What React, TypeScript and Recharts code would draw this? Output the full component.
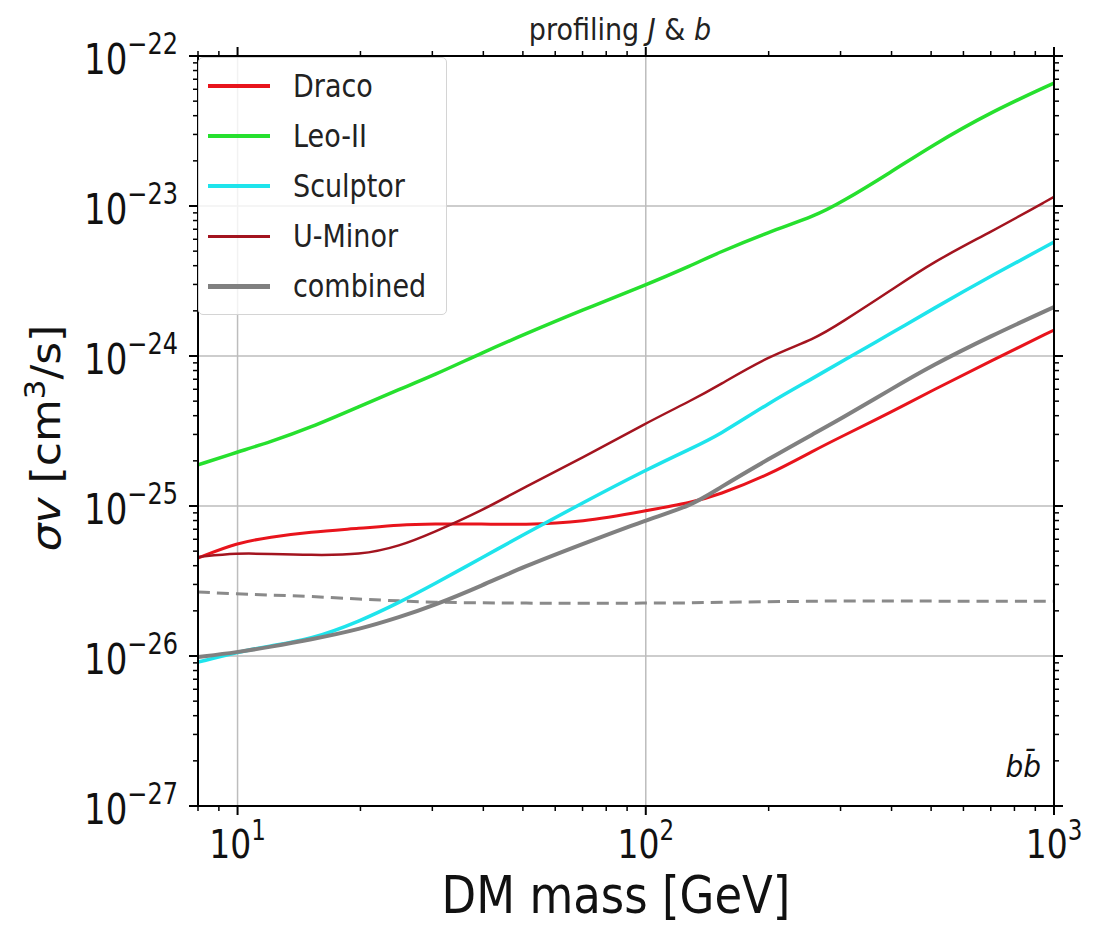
import React from 'react';
import { LineChart, Line, XAxis, YAxis, ReferenceLine } from 'recharts';

// DM mass [GeV]
const MASS = [8, 10, 12, 15, 20, 25, 30, 40, 50, 70, 100, 130, 150, 200, 260, 300, 400, 500, 700, 1000];

// sigma v upper limits [cm^3/s]
const DRACO = [4.5e-26, 5.7e-26, 6.2e-26, 6.7e-26, 7.1e-26, 7.5e-26, 7.6e-26, 7.6e-26, 7.5e-26, 7.8e-26, 9.3e-26, 1.06e-25, 1.18e-25, 1.61e-25, 2.37e-25, 2.88e-25, 4.24e-25, 5.84e-25, 9.26e-25, 1.49e-24];
const LEO_II = [1.88e-25, 2.29e-25, 2.67e-25, 3.31e-25, 4.64e-25, 6.03e-25, 7.36e-25, 1.06e-24, 1.38e-24, 2.03e-24, 2.97e-24, 4.04e-24, 4.86e-24, 6.71e-24, 8.58e-24, 1.05e-23, 1.69e-23, 2.51e-23, 4.23e-23, 6.61e-23];
const SCULPTOR = [9.1e-27, 1.06e-26, 1.17e-26, 1.28e-26, 1.71e-26, 2.29e-26, 2.97e-26, 4.57e-26, 6.41e-26, 1.05e-25, 1.74e-25, 2.44e-25, 2.93e-25, 4.86e-25, 7.24e-25, 9.12e-25, 1.42e-24, 2.03e-24, 3.41e-24, 5.75e-24];
const U_MINOR = [4.57e-26, 4.86e-26, 4.79e-26, 4.71e-26, 4.71e-26, 5.41e-26, 6.61e-26, 9.4e-26, 1.32e-25, 2.09e-25, 3.57e-25, 5.09e-25, 6.31e-25, 1.0e-24, 1.3e-24, 1.66e-24, 2.75e-24, 4.17e-24, 6.71e-24, 1.15e-23];
const COMBINED = [9.85e-27, 1.06e-26, 1.15e-26, 1.28e-26, 1.51e-26, 1.82e-26, 2.15e-26, 2.97e-26, 3.92e-26, 5.58e-26, 8.07e-26, 1.01e-25, 1.3e-25, 2.06e-25, 3.07e-25, 3.8e-25, 6.03e-25, 8.58e-25, 1.36e-24, 2.12e-24];
const RELIC = [2.67e-26, 2.59e-26, 2.55e-26, 2.5e-26, 2.39e-26, 2.33e-26, 2.28e-26, 2.26e-26, 2.25e-26, 2.25e-26, 2.25e-26, 2.26e-26, 2.28e-26, 2.3e-26, 2.32e-26, 2.33e-26, 2.33e-26, 2.32e-26, 2.32e-26, 2.32e-26];

// axes
const X_DOMAIN = [8, 1000];
const Y_DOMAIN = [1e-27, 1e-22];
const X_GRID = [10, 100];
const Y_GRID = [1e-23, 1e-24, 1e-25, 1e-26];
const X_TICKS = [8, 9, 10, 20, 30, 40, 50, 60, 70, 80, 90, 100, 200, 300, 400, 500, 600, 700, 800, 900, 1000];
const Y_TICKS = [-27, -26, -25, -24, -23].flatMap(e =>
  [1, 2, 3, 4, 5, 6, 7, 8, 9].map(m => m * Math.pow(10, e))
).concat([1e-22]);

const FONT = '"DejaVu Sans", sans-serif';

const SERIES = [
  { key: 'draco', name: 'Draco', color: '#e8141c', width: 3, legendWidth: 4 },
  { key: 'leo', name: 'Leo-II', color: '#26e02e', width: 3.5, legendWidth: 4 },
  { key: 'sculptor', name: 'Sculptor', color: '#1ee4ec', width: 3.5, legendWidth: 4 },
  { key: 'uminor', name: 'U-Minor', color: '#a3141f', width: 2.5, legendWidth: 3 },
  { key: 'combined', name: 'combined', color: '#808080', width: 4, legendWidth: 5 },
];

const rows = MASS.map((m, i) => ({
  m,
  draco: DRACO[i],
  leo: LEO_II[i],
  sculptor: SCULPTOR[i],
  uminor: U_MINOR[i],
  combined: COMBINED[i],
  relic: RELIC[i],
}));

const isMajor = (v: number) => {
  const l = Math.log10(v);
  return Math.abs(l - Math.round(l)) < 1e-6;
};
const expOf = (v: number) => {
  const e = Math.round(Math.log10(v));
  return e < 0 ? '\u2212' + Math.abs(e) : String(e);
};

const BottomTick = (p: any) => {
  const { x, y, payload } = p;
  const major = isMajor(payload.value);
  return (
    <g>
      <line x1={x} x2={x} y1={y} y2={y + (major ? 9 : 5)} stroke="#000" strokeWidth={major ? 2 : 1.5} />
      {major && (
        <g transform={`translate(${x},${y + 52}) scale(1,1.2)`}>
          <text textAnchor="middle" fontSize={33} fill="#111" fontFamily={FONT}>
            10<tspan fontSize={23} dy={-15}>{expOf(payload.value)}</tspan>
          </text>
        </g>
      )}
    </g>
  );
};

const TopTick = (p: any) => {
  const { x, y, payload } = p;
  const major = isMajor(payload.value);
  return <line x1={x} x2={x} y1={y} y2={y - (major ? 9 : 5)} stroke="#000" strokeWidth={major ? 2 : 1.5} />;
};

const LeftTick = (p: any) => {
  const { x, y, payload } = p;
  const major = isMajor(payload.value);
  return (
    <g>
      <line x1={x} x2={x - (major ? 9 : 5)} y1={y} y2={y} stroke="#000" strokeWidth={major ? 2 : 1.5} />
      {major && (
        <g transform={`translate(${x - 20},${y}) scale(1,1.25)`}>
          <text textAnchor="end" y={14} fontSize={34} fill="#111" fontFamily={FONT}>
            10<tspan fontSize={24} dy={-16}>{expOf(payload.value)}</tspan>
          </text>
        </g>
      )}
    </g>
  );
};

const RightTick = (p: any) => {
  const { x, y, payload } = p;
  const major = isMajor(payload.value);
  return <line x1={x} x2={x + (major ? 9 : 5)} y1={y} y2={y} stroke="#000" strokeWidth={major ? 2 : 1.5} />;
};

const App: React.FC = () => {
  return (
    <div style={{ position: 'absolute', left: 0, top: 0, width: 1104, height: 926, background: '#fff' }}>
      <LineChart width={1104} height={926} data={rows} margin={{ top: 46, right: 40, bottom: 20, left: 8 }}>
        <XAxis
          dataKey="m"
          type="number"
          scale="log"
          domain={X_DOMAIN}
          allowDataOverflow
          ticks={X_TICKS}
          interval={0}
          height={100}
          tickSize={0}
          tickMargin={0}
          tickLine={false}
          tick={<BottomTick />}
          axisLine={{ stroke: '#000', strokeWidth: 2 }}
        />
        <XAxis
          xAxisId="top"
          orientation="top"
          dataKey="m"
          type="number"
          scale="log"
          domain={X_DOMAIN}
          allowDataOverflow
          ticks={X_TICKS}
          interval={0}
          height={10}
          tickSize={0}
          tickMargin={0}
          tickLine={false}
          tick={<TopTick />}
          axisLine={{ stroke: '#000', strokeWidth: 2 }}
        />
        <YAxis
          type="number"
          scale="log"
          domain={Y_DOMAIN}
          allowDataOverflow
          ticks={Y_TICKS}
          interval={0}
          width={190}
          tickSize={0}
          tickMargin={0}
          tickLine={false}
          tick={<LeftTick />}
          axisLine={{ stroke: '#000', strokeWidth: 2 }}
        />
        <YAxis
          yAxisId="right"
          orientation="right"
          type="number"
          scale="log"
          domain={Y_DOMAIN}
          allowDataOverflow
          ticks={Y_TICKS}
          interval={0}
          width={10}
          tickSize={0}
          tickMargin={0}
          tickLine={false}
          tick={<RightTick />}
          axisLine={{ stroke: '#000', strokeWidth: 2 }}
        />
        {X_GRID.map(v => (
          <ReferenceLine key={'gx' + v} x={v} stroke="#bdbdbd" strokeWidth={1.5} />
        ))}
        {Y_GRID.map(v => (
          <ReferenceLine key={'gy' + v} y={v} stroke="#bdbdbd" strokeWidth={1.5} />
        ))}
        <Line
          dataKey="relic"
          type="basis"
          stroke="#8a8a8a"
          strokeWidth={3}
          strokeDasharray="12 7"
          dot={false}
          isAnimationActive={false}
        />
        {SERIES.map(s => (
          <Line
            key={s.key}
            dataKey={s.key}
            name={s.name}
            type="basis"
            stroke={s.color}
            strokeWidth={s.width}
            dot={false}
            isAnimationActive={false}
          />
        ))}
      </LineChart>

      <svg width={1104} height={926} style={{ position: 'absolute', left: 0, top: 0, pointerEvents: 'none' }}>
        <g transform="translate(620,40) scale(1,1.1)">
          <text textAnchor="middle" fontSize={27} fill="#222" fontFamily={FONT}>
            profiling <tspan fontStyle="italic">J</tspan> &amp; <tspan fontStyle="italic">b</tspan>
          </text>
        </g>
        <g transform="translate(616,913) scale(1,1.15)">
          <text textAnchor="middle" fontSize={45} fill="#111" fontFamily={FONT}>DM mass [GeV]</text>
        </g>
        <g transform="translate(60,438) scale(1,1.1) rotate(-90)">
          <text textAnchor="middle" fontSize={40} fill="#111" fontFamily={FONT}>
            <tspan fontStyle="italic">σv</tspan> [cm<tspan fontSize={28} dy={-15}>3</tspan><tspan dy={15}>/s]</tspan>
          </text>
        </g>
        <g transform="translate(1041,777) scale(1,1.1)">
          <text textAnchor="end" fontSize={28} fontStyle="italic" fill="#111" fontFamily={FONT}>
            b{'b\u0304'}
          </text>
        </g>
      </svg>

      <div
        style={{
          position: 'absolute',
          left: 198,
          top: 57,
          width: 249,
          height: 258,
          boxSizing: 'border-box',
          border: '1.5px solid #d4d4d4',
          borderRadius: 5,
          background: 'rgba(255,255,255,0.8)',
          fontFamily: FONT,
        }}
      >
        {SERIES.map((s, i) => (
          <div
            key={s.key}
            style={{ position: 'absolute', left: 9, top: 8 + i * 50, height: 40, display: 'flex', alignItems: 'center' }}
          >
            <div style={{ width: 62, height: 0, borderTop: `${s.legendWidth}px solid ${s.color}` }} />
            <span
              style={{ marginLeft: 23, fontSize: 27, color: '#222', display: 'inline-block', transform: 'scaleY(1.15)', whiteSpace: 'nowrap' }}
            >
              {s.name}
            </span>
          </div>
        ))}
      </div>
    </div>
  );
};

export default App;
